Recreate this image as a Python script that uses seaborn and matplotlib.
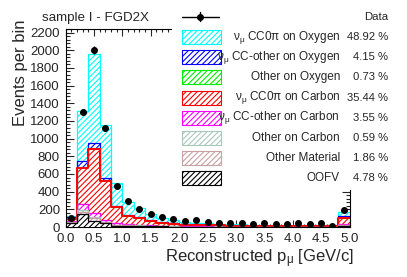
import numpy as np
import pandas as pd
import seaborn as sns
import matplotlib.pyplot as plt
from matplotlib.patches import Rectangle
from matplotlib.lines import Line2D
from matplotlib.ticker import MultipleLocator, FormatStrFormatter

# --- Data ---
edges = np.round(np.arange(0, 5.01, 0.2), 2)
centers = (edges[:-1] + edges[1:]) / 2

data_counts = [100, 1300, 2000, 1120, 460, 290, 198, 143, 113, 94, 68, 79, 60,
               49, 49, 47, 30, 49, 34, 30, 41, 30, 41, 15, 192]

# MC components, legend order (top of the stack first)
cc0pi_oxygen = [12, 565, 1010, 605, 255, 150, 105, 72, 52, 40, 30, 24, 20, 17,
                16, 14, 13, 12, 11, 10, 10, 9, 9, 8, 50]
ccother_oxygen = [20, 65, 50, 22, 15, 10, 9, 7, 5, 4, 3, 3, 2, 2, 2, 2, 2, 2, 2,
                  2, 1, 1, 1, 1, 15]
other_oxygen = [3, 10, 15, 7, 3, 2, 2, 1, 1, 1, 1, 0, 0, 0, 0, 0, 0, 0, 0, 0, 0,
                0, 0, 0, 2]
cc0pi_carbon = [15, 415, 720, 445, 180, 97, 72, 48, 35, 27, 20, 16, 14, 12, 11,
                10, 9, 8, 8, 7, 7, 7, 6, 6, 65]
ccother_carbon = [12, 65, 45, 18, 15, 10, 10, 7, 5, 4, 3, 3, 2, 2, 2, 2, 2, 2, 2,
                  2, 2, 2, 2, 2, 15]
other_carbon = [3, 15, 15, 6, 4, 2, 2, 1, 1, 1, 1, 1, 1, 0, 0, 0, 0, 0, 0, 0, 0,
                0, 0, 0, 2]
other_material = [10, 25, 30, 12, 8, 5, 4, 3, 2, 2, 1, 1, 1, 1, 1, 1, 1, 1, 1, 1,
                  1, 1, 1, 1, 5]
oofv = [45, 150, 70, 40, 15, 12, 12, 8, 6, 3, 3, 2, 2, 2, 1, 1, 1, 1, 1, 0, 0, 0,
        0, 0, 16]

labels = ['ν$_{\\mathrm{μ}}$ CC0π on Oxygen', 'ν$_{\\mathrm{μ}}$ CC-other on Oxygen',
          'Other on Oxygen', 'ν$_{\\mathrm{μ}}$ CC0π on Carbon',
          'ν$_{\\mathrm{μ}}$ CC-other on Carbon', 'Other on Carbon',
          'Other Material', 'OOFV']
percents = ['48.92 %', '4.15 %', '0.73 %', '35.44 %', '3.55 %', '0.59 %',
            '1.86 %', '4.78 %']
colors = ['#00ffff', '#0000ff', '#00ee00', '#ff0000', '#ff00ff', '#a8c8bc',
          '#c8a0a0', '#000000']

components = [cc0pi_oxygen, ccother_oxygen, other_oxygen, cc0pi_carbon,
              ccother_carbon, other_carbon, other_material, oofv]

# --- Style ---
sns.set_style('ticks')
plt.rcParams['font.family'] = ['Liberation Sans', 'DejaVu Sans']
plt.rcParams['mathtext.fontset'] = 'custom'
plt.rcParams['mathtext.rm'] = 'Liberation Sans'
plt.rcParams['mathtext.it'] = 'Liberation Sans:italic'
plt.rcParams['hatch.linewidth'] = 0.8
HATCH = '//////'

fig = plt.figure(figsize=(4.07, 2.77), dpi=100)
ax = fig.add_axes([65.5 / 407, 1 - 227 / 277, 284 / 407, 198 / 277])

# Stack: draw cumulative totals from the top layer down (THStack style)
stack = np.array(components, dtype=float)
cumul = stack[::-1].cumsum(axis=0)[::-1]
for i, col in enumerate(colors):
    df = pd.DataFrame({'p': centers, 'n': cumul[i]})
    sns.histplot(data=df, x='p', weights='n', binwidth=0.2, binrange=(0, 5),
                 ax=ax, facecolor='white', edgecolor=col, hatch=HATCH,
                 linewidth=0, alpha=1)
    sns.histplot(data=df, x='p', weights='n', binwidth=0.2, binrange=(0, 5),
                 ax=ax, element='step', fill=False, color=col,
                 linewidth=1.4 if col == '#ff0000' else 0.9)

# Data points
data_counts = np.array(data_counts, dtype=float)
ax.errorbar(centers, data_counts, yerr=np.sqrt(data_counts), fmt='o', color='k',
            ms=4, elinewidth=1, capsize=0, zorder=5)

ax.set_xlim(0, 5)
ax.set_ylim(0, 2240)
ax.set_xlabel('')
ax.set_ylabel('')
ax.xaxis.set_major_locator(MultipleLocator(0.5))
ax.xaxis.set_minor_locator(MultipleLocator(0.1))
ax.xaxis.set_major_formatter(FormatStrFormatter('%.1f'))
ax.yaxis.set_major_locator(MultipleLocator(200))
ax.yaxis.set_minor_locator(MultipleLocator(40))
ax.tick_params(which='both', direction='in', top=True, right=True,
               labelsize=9.5, pad=4, width=0.8)
ax.tick_params(axis='x', which='major', length=5)
ax.tick_params(axis='x', which='minor', length=2.5)
ax.tick_params(axis='y', which='major', length=6)
ax.tick_params(axis='y', which='minor', length=3)
for s in ax.spines.values():
    s.set_linewidth(0.8)
    s.set_color('black')
    s.set_zorder(6)

# Titles
fig.text(42 / 407, 1 - 21 / 277, 'sample I - FGD2X', fontsize=9.6, va='baseline')
fig.text(21 / 407, 1 - 20 / 277, 'Events per bin', fontsize=12, rotation=90,
         ha='center', va='top')
fig.text(354 / 407, 1 - 262 / 277, 'Reconstructed p$_{\\mathrm{μ}}$ [GeV/c]',
         fontsize=12, ha='right', va='baseline')

# --- Legend (white box over the top-right corner) ---
fx = lambda x: x / 407
fy = lambda y: 1 - y / 277
fig.add_artist(Rectangle((fx(172), fy(190)), 1 - fx(172), 1 - fy(190),
                         transform=fig.transFigure, facecolor='white',
                         edgecolor='none', zorder=4))
fig.add_artist(Line2D([fx(182), fx(219)], [fy(16.5), fy(16.5)],
                      transform=fig.transFigure, color='k', lw=1, zorder=5))
fig.add_artist(Line2D([fx(200), fx(200)], [fy(12), fy(21)],
                      transform=fig.transFigure, color='k', lw=1, zorder=5))
fig.add_artist(Line2D([fx(200)], [fy(16.5)], marker='o', ms=4, color='k',
                      transform=fig.transFigure, zorder=6))
fig.text(fx(388), fy(16.5), 'Data', fontsize=8.2, ha='right', va='center',
         zorder=6)
for i, (lab, pct, col) in enumerate(zip(labels, percents, colors)):
    yc = 37 + 20.2 * i
    fig.add_artist(Rectangle((fx(181.5), fy(yc + 7)), fx(220.5) - fx(181.5),
                             fy(yc - 7) - fy(yc + 7), transform=fig.transFigure,
                             facecolor='white', edgecolor=col, hatch=HATCH,
                             lw=0.8, zorder=5))
    fig.text(fx(340), fy(yc), lab, fontsize=8.5, ha='right', va='center', zorder=6)
    fig.text(fx(388), fy(yc), pct, fontsize=8.1, ha='right', va='center', zorder=6)

fig.savefig('out.png', dpi=100)
